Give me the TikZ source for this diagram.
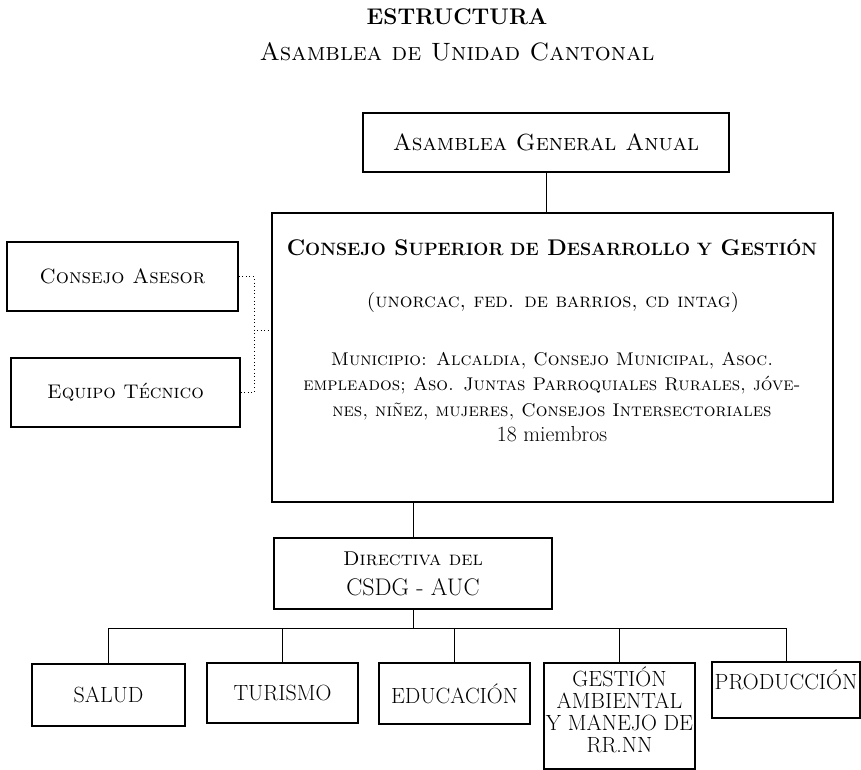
\documentclass[tikz,border=0pt]{standalone}
\newcommand{\chica}[1]{{\fontsize{13.4}{19}\selectfont #1}}
\begin{document}
\begin{tikzpicture}[x=0.75pt,y=-0.75pt,
    box/.style={draw=black,line width=0.9pt,inner sep=0pt,align=center},
    hijo/.style={box,minimum width=151*0.75pt,font=\fontsize{16.5}{16.5}\selectfont},
    lazo/.style={line width=0.7pt},
    asesoria/.style={line width=0.7pt,dotted}]
            \useasboundingbox (0,0) rectangle (861,770);

            % encabezado
            \node[font=\fontsize{17}{20}\selectfont\bfseries] (titulo) at (457,17) {ESTRUCTURA};
            \node[font=\fontsize{18.8}{20}\selectfont\scshape] (subtitulo) at (457,52) {Asamblea de Unidad Cantonal};

            \node[box,minimum width=366*0.75pt,minimum height=59*0.75pt,font=\fontsize{17.5}{20}\selectfont\scshape] (asamblea) at (546,142.5) {Asamblea General Anual};

            % consejo superior
            \node[box,minimum width=561*0.75pt,minimum height=289*0.75pt] (csdg) at (552.5,357.5) {};
            \node[font=\fontsize{17}{19}\selectfont\bfseries] (csdgtit) at (552,248) {C\chica{ONSEJO} S\chica{UPERIOR DE} D\chica{ESARROLLO Y} G\chica{ESTIÓN}};
            \node[font=\fontsize{15}{17}\selectfont\scshape] (csdgorg) at (553,302) {(unorcac, fed. de barrios, cd intag)};
            \node[align=center,font=\fontsize{13.8}{19}\selectfont\scshape] (csdgmun) at (552,397) {Municipio: Alcaldia, Consejo Municipal, Asoc.\\
                empleados; Aso. Juntas Parroquiales Rurales, jóve-\\
                nes, niñez, mujeres, Consejos Intersectoriales\\
                {\upshape\fontsize{16.3}{19}\selectfont 18 miembros}};

            \node[box,minimum width=231*0.75pt,minimum height=69*0.75pt,font=\fontsize{15.5}{17}\selectfont\scshape] (asesor) at (122.5,276.5) {Consejo Asesor};
            \node[box,minimum width=229*0.75pt,minimum height=69*0.75pt,font=\fontsize{14.8}{17}\selectfont\scshape] (tecnico) at (125.5,392.5) {Equipo Técnico};

            \node[box,minimum width=278*0.75pt,minimum height=71*0.75pt,font=\fontsize{15}{22.5}\selectfont] (directiva) at (413,573.5) {\scshape Directiva del\\ {\fontsize{18}{22.5}\selectfont CSDG - AUC}};

            % comisiones
            \node[hijo,minimum width=153*0.75pt,minimum height=62*0.75pt] (salud) at (108.5,695) {SALUD};
            \node[hijo,minimum height=60*0.75pt] (turismo) at (282.5,693) {TURISMO};
            \node[hijo,minimum height=61*0.75pt] (educacion) at (454.5,693.5) {EDUCACIÓN};
            \node[hijo,minimum height=106*0.75pt,text depth=9pt] (gestion) at (619.5,716) {GESTIÓN\\ AMBIENTAL\\ Y MANEJO DE\\ RR.NN};
            \node[hijo,minimum width=148*0.75pt,minimum height=56*0.75pt,text depth=15pt] (produccion) at (786,690) {PRODUCCIÓN};

            \coordinate (nudo) at (254,330);
            \coordinate (reparto) at (413,628);

            \draw[lazo] (asamblea.south) -- (asamblea.south |- csdg.north);
            \draw[lazo] (directiva.north) -- (directiva.north |- csdg.south);
            \draw[asesoria] (asesor.east) -| (nudo) -- (nudo -| csdg.west);
            \draw[asesoria] (tecnico.east) -| (nudo);
            \draw[lazo] (directiva.south) -- (reparto);
            \foreach \c in {salud,turismo,educacion,gestion,produccion}
                \draw[lazo] (reparto) -| (\c.north);

        \end{tikzpicture}
\end{document}
